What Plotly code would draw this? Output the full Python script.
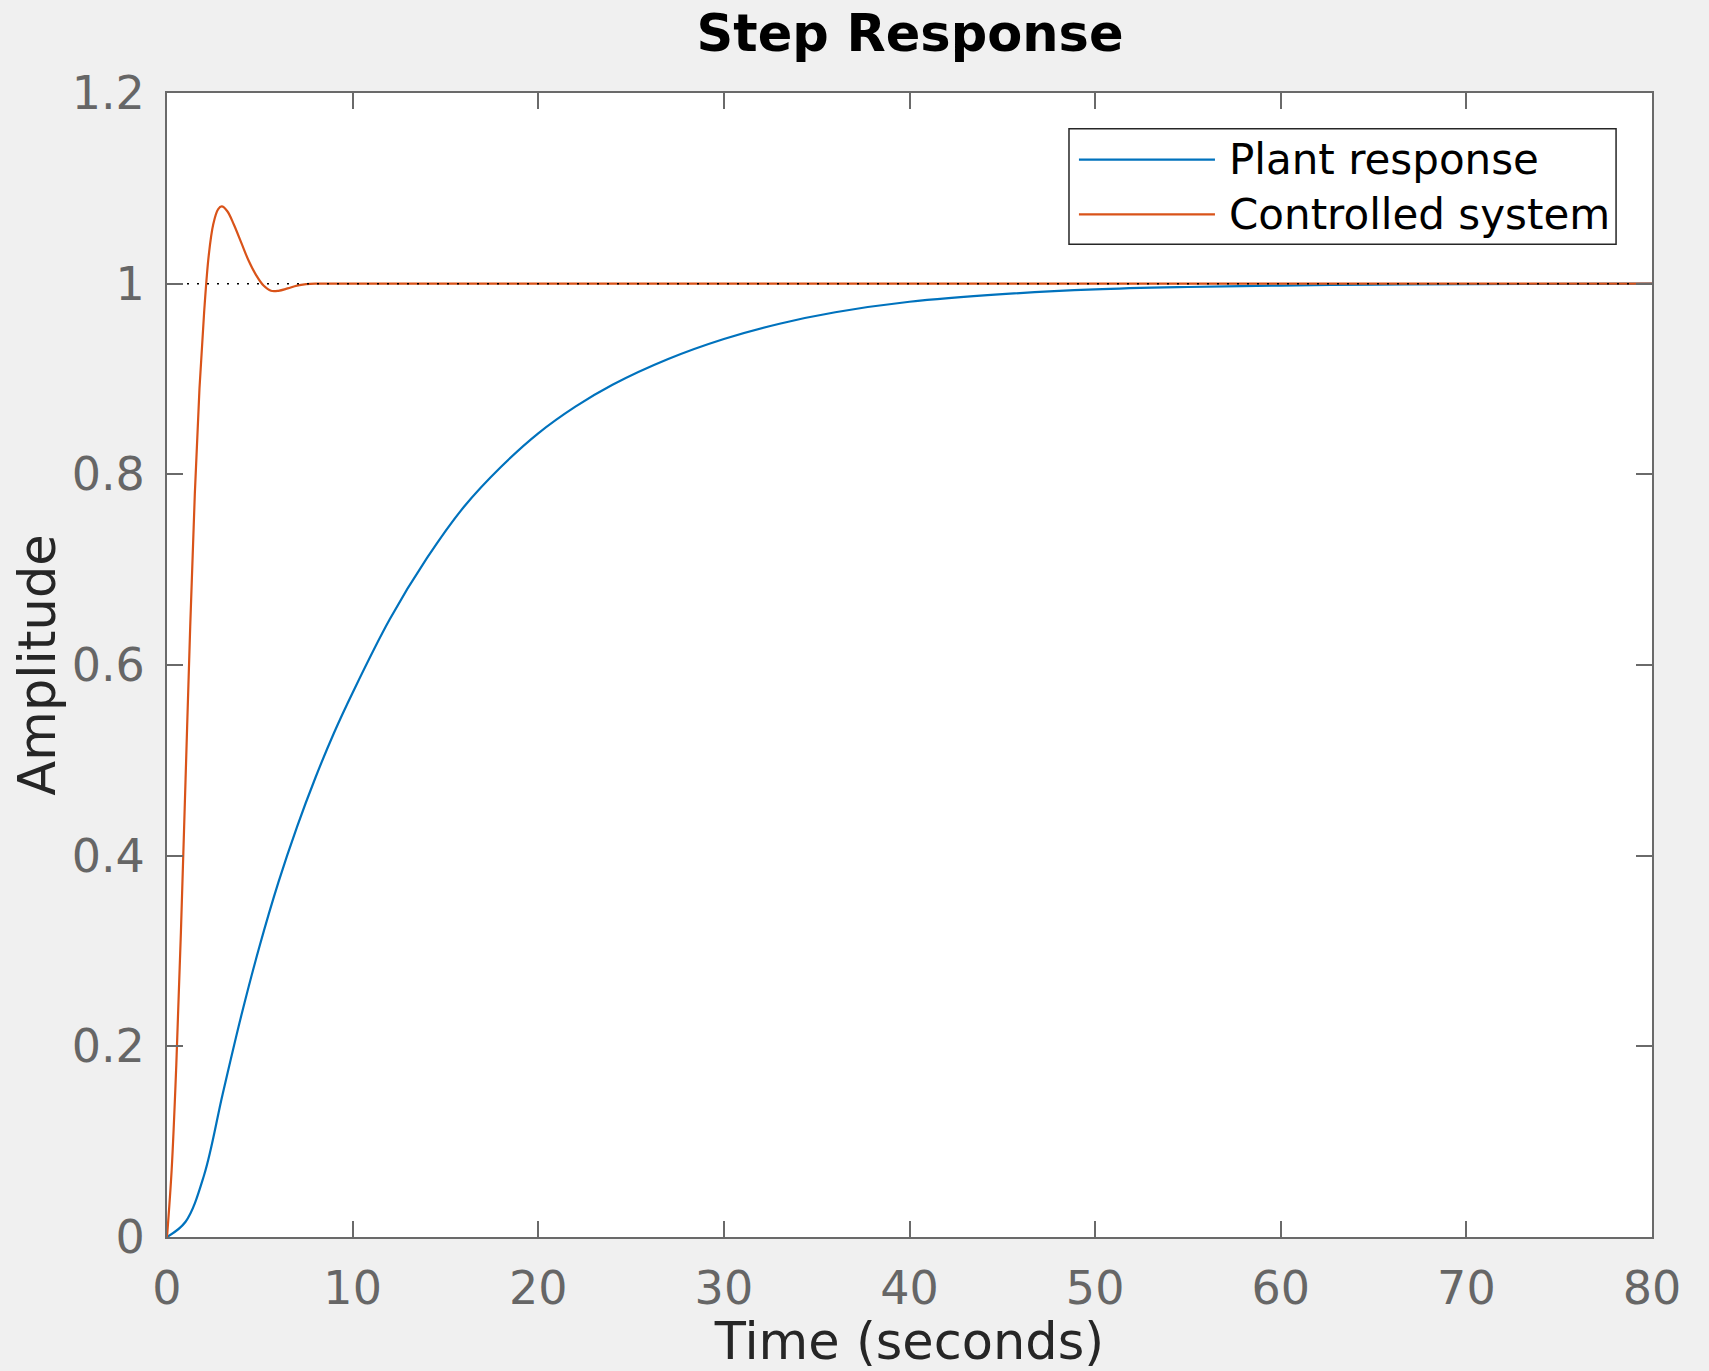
import plotly.graph_objects as go

# ---- data ----
plant_t = [0, 1, 2, 3, 4, 5, 6, 7, 8, 9, 10, 12, 14, 16, 18, 20, 22, 24, 27, 30,
           33, 36, 40, 45, 50, 55, 60, 65, 70, 80]
plant_y = [0, 0.016, 0.065, 0.150, 0.232, 0.306, 0.372, 0.430, 0.482, 0.529, 0.571,
           0.648, 0.712, 0.766, 0.808, 0.843, 0.871, 0.894, 0.921, 0.942,
           0.958, 0.970, 0.981, 0.989, 0.994, 0.9965, 0.998, 0.999, 0.9995, 1.0]

ctrl_t = [0, 0.25, 0.5, 0.75, 1.0, 1.25, 1.5, 1.75, 2.0, 2.25, 2.5, 2.75, 2.95,
          3.25, 3.6, 4.0, 4.4, 4.8, 5.2, 5.6, 6.0, 6.5, 7.0, 7.5, 8.0, 80]
ctrl_y = [0, 0.07, 0.18, 0.32, 0.48, 0.64, 0.78, 0.89, 0.97, 1.03, 1.063, 1.078, 1.081,
          1.076, 1.062, 1.043, 1.024, 1.009, 0.998, 0.9925, 0.9925, 0.995, 0.998, 0.9995,
          1.0, 1.0]

steady_t = [0, 80]
steady_y = [1, 1]

x_ticks = [0, 10, 20, 30, 40, 50, 60, 70, 80]
y_ticks = [0, 0.2, 0.4, 0.6, 0.8, 1.0, 1.2]
y_ticklabels = ["0", "0.2", "0.4", "0.6", "0.8", "1", "1.2"]

series_names = ["Plant response", "Controlled system"]
BLUE = "#0072BD"
ORANGE = "#D95319"

FONT = "DejaVu Sans"
AX = "#6a6a6a"

fig = go.Figure()
fig.add_trace(go.Scatter(x=plant_t, y=plant_y, mode="lines", name=series_names[0],
                         line=dict(color=BLUE, width=2.2, shape="spline", smoothing=1.0),
                         showlegend=False))
fig.add_trace(go.Scatter(x=ctrl_t, y=ctrl_y, mode="lines", name=series_names[1],
                         line=dict(color=ORANGE, width=2.2, shape="spline", smoothing=1.0),
                         showlegend=False))
fig.add_trace(go.Scatter(x=steady_t, y=steady_y, mode="lines", name="steady state",
                         line=dict(color="#000000", width=1.5, dash="2px,8px"),
                         showlegend=False, hoverinfo="skip"))

# plot area in pixels: top 93, bottom 1243
PT, PB = 93, 1243
PH = PB - PT


def py(pix):
    return (PB - pix) / PH


# custom MATLAB-like legend box
lx0, lx1 = 0.6074, 0.9758
fig.add_shape(type="rect", xref="paper", yref="paper", x0=lx0, x1=lx1, y0=py(245), y1=py(129),
              line=dict(color="#262626", width=1.5), fillcolor="white", layer="above")
for ypix, col, name in [(160, BLUE, series_names[0]), (215, ORANGE, series_names[1])]:
    yy = py(ypix)
    fig.add_shape(type="line", xref="paper", yref="paper", x0=0.6141, x1=0.7057, y0=yy, y1=yy,
                  line=dict(color=col, width=2.2), layer="above")
    fig.add_annotation(xref="paper", yref="paper", x=0.7138, y=yy, text=name, showarrow=False,
                       xanchor="left", yanchor="middle",
                       font=dict(family=FONT, size=42, color="#000000"))

axis_common = dict(showline=True, linecolor=AX, linewidth=2, mirror="ticks",
                   ticks="inside", ticklen=16, tickwidth=2, tickcolor=AX,
                   showgrid=False, zeroline=False,
                   tickfont=dict(family=FONT, size=46, color="#666666"))

fig.update_layout(
    width=1709, height=1371,
    margin=dict(l=167, r=57, t=PT, b=1371 - PB, pad=0),
    paper_bgcolor="#F0F0F0", plot_bgcolor="#FFFFFF",
    title=dict(text="<b>Step Response</b>", x=0.5325, xanchor="center",
               y=1 - 15 / 1371, yref="container", yanchor="top",
               font=dict(family=FONT, size=51, color="#000000")),
    xaxis=dict(range=[0, 80], tickvals=x_ticks, ticktext=[str(v) for v in x_ticks],
               title=dict(text="Time (seconds)", standoff=8,
                          font=dict(family=FONT, size=51, color="#262626")),
               ticklabelstandoff=10, **axis_common),
    yaxis=dict(range=[0, 1.2], tickvals=y_ticks, ticktext=y_ticklabels,
               title=dict(text="Amplitude", standoff=0,
                          font=dict(family=FONT, size=51, color="#262626")),
               ticklabelstandoff=11, **axis_common),
)

fig.write_html("out.html", config={"displayModeBar": False},
               post_script="document.body.style.margin='0';document.body.style.overflow='hidden';")
